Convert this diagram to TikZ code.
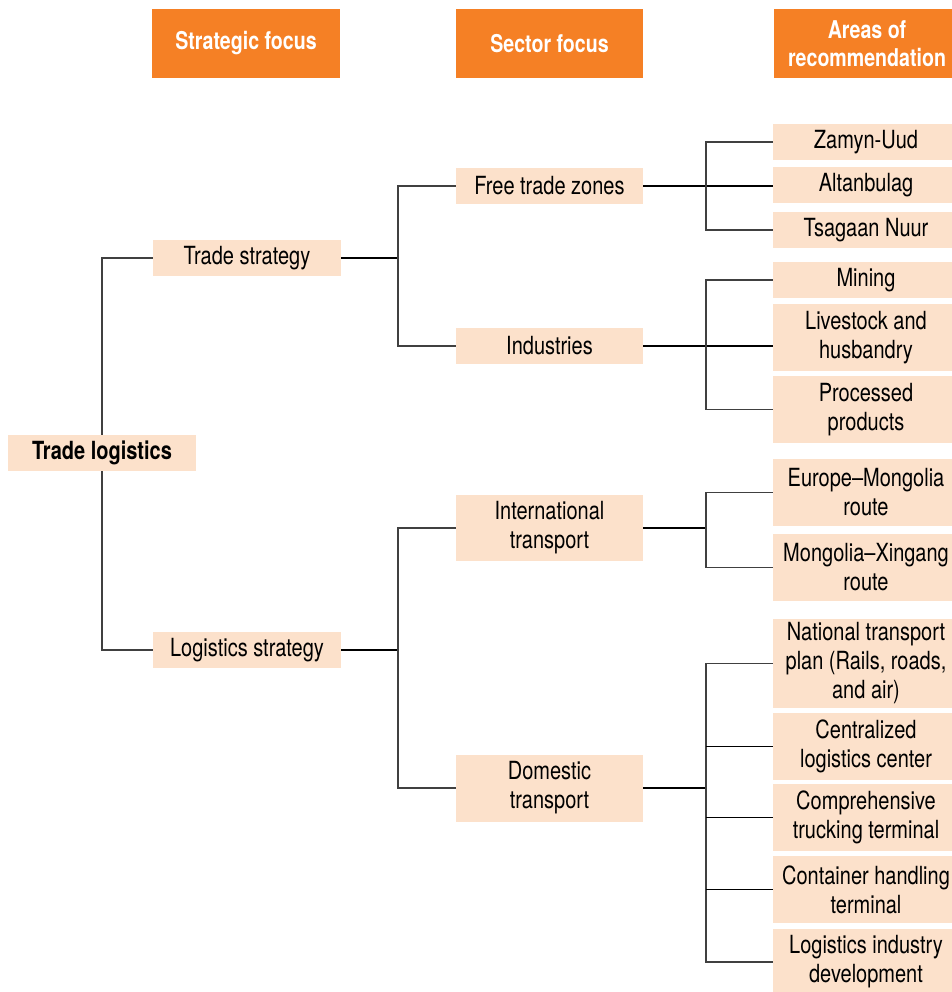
\documentclass[tikz,border=0pt]{standalone}
\usepackage{fontspec}
\setmainfont[FakeStretch=0.8]{TeX Gyre Heros}
\usetikzlibrary{positioning}
\definecolor{peach}{HTML}{FCE1CB}
\definecolor{hdorange}{HTML}{F58025}
\tikzset{box/.style={fill=peach, inner sep=0pt, align=center, font=\fontsize{25}{29}\selectfont}}
\tikzset{head/.style={fill=hdorange, text=white, inner sep=0pt, align=center, minimum height=69pt, font=\fontsize{24.5}{28}\selectfont\bfseries}}
\tikzset{stem/.style={line width=1.7pt, black}}
\tikzset{branch/.style={line width=1.2pt, black!75}}

\begin{document}
\begin{tikzpicture}[x=1pt, y=-1pt]
\useasboundingbox (0, 0) rectangle (951, 992);
\node[head, minimum width=188pt] (hstrat) at (246, 43.5) {Strategic focus};
\node[head, minimum width=187pt] (hsector) at (549.5, 43.5) {Sector focus};
\node[head, minimum width=186pt] (hareas) at (867, 43.5) {Areas of\\recommendation};
\node[box, minimum width=188pt, minimum height=36pt, font=\fontsize{25}{29}\selectfont\bfseries] (root) at (102, 453) {Trade logistics};
\node[box, minimum width=188pt, minimum height=36pt] (trade) at (247, 258) {Trade strategy};
\node[box, minimum width=188pt, minimum height=36pt] (logist) at (247, 650) {Logistics strategy};
\node[box, minimum width=187pt, minimum height=36pt] (ftz) at (549.5, 186) {Free trade zones};
\node[box, minimum width=187pt, minimum height=36pt] (ind) at (549.5, 346) {Industries};
\node[box, minimum width=187pt, minimum height=66pt] (intl) at (549.5, 528) {International\\transport};
\node[box, minimum width=187pt, minimum height=67pt] (dom) at (549.5, 788) {Domestic\\transport};
\node[box, minimum width=186pt, minimum height=36pt] (zam) at (866, 142) {Zamyn-Uud};
\node[box, minimum width=186pt, minimum height=36pt] (alt) at (866, 185) {Altanbulag};
\node[box, minimum width=186pt, minimum height=36pt] (tsa) at (866, 230) {Tsagaan Nuur};
\node[box, minimum width=186pt, minimum height=36pt] (mine) at (866, 280) {Mining};
\node[box, minimum width=186pt, minimum height=67pt] (live) at (866, 337.5) {Livestock and\\husbandry};
\node[box, minimum width=186pt, minimum height=67pt] (proc) at (866, 409.5) {Processed\\products};
\node[box, minimum width=186pt, minimum height=67pt] (eur) at (866, 492.5) {Europe--Mongolia\\route};
\node[box, minimum width=186pt, minimum height=67pt] (xin) at (866, 567.5) {Mongolia--Xingang\\route};
\node[box, minimum width=186pt, minimum height=89pt] (nat) at (866, 663.5) {National transport\\plan (Rails, roads,\\and air)};
\node[box, minimum width=186pt, minimum height=67pt] (cen) at (866, 746.5) {Centralized\\logistics center};
\node[box, minimum width=186pt, minimum height=67pt] (truck) at (866, 817.5) {Comprehensive\\trucking terminal};
\node[box, minimum width=186pt, minimum height=67pt] (cont) at (866, 889.5) {Container handling\\terminal};
\node[box, minimum width=186pt, minimum height=66pt] (lid) at (866, 962) {Logistics industry\\development};
\coordinate (ja) at (398, 258);
\coordinate (jb) at (398, 650);
\coordinate (jc) at (706, 186);
\coordinate (jd) at (706, 346);
\coordinate (je) at (706, 528);
\coordinate (jf) at (706, 788);
\draw[branch] (trade.west) -| (root.north);
\draw[branch] (logist.west) -| (root.south);
\draw[stem] (trade.east) -- (ja);
\draw[stem] (logist.east) -- (jb);
\draw[branch] (ftz.west) -| (ja) |- (ind.west);
\draw[branch] (intl.west) -| (jb) |- (dom.west);
\draw[stem] (ftz.east) -- (ftz.east -| alt.west);
\draw[branch] (zam.west) -| (jc) |- (tsa.west);
\draw[stem] (ind.east) -- (ind.east -| live.west);
\draw[branch] (mine.west) -| (jd) |- (proc.west);
\draw[stem] (intl.east) -- (je);
\draw[branch] (eur.west) -| (je) |- (xin.west);
\draw[stem] (dom.east) -- (jf);
\draw[branch] (nat.west) -| (jf) |- (lid.west);
\draw[stem] (cen.west) -- (cen.west -| jf);
\draw[stem] (truck.west) -- (truck.west -| jf);
\draw[stem] (cont.west) -- (cont.west -| jf);
\end{tikzpicture}
\end{document}
